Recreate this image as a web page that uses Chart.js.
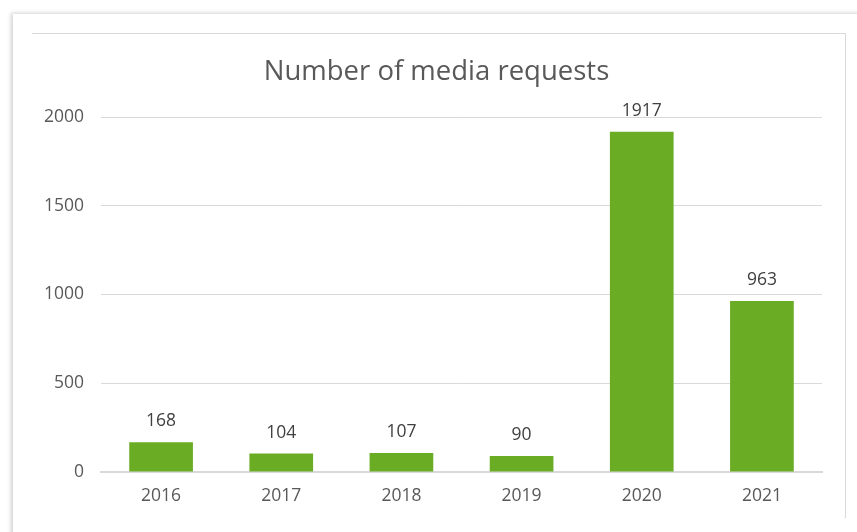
<!DOCTYPE html>
<html>
<head>
<meta charset="utf-8">
<script src="https://cdn.jsdelivr.net/npm/chart.js@4"></script>
<style>
  html, body { margin: 0; padding: 0; background: #ffffff; }
  body { width: 857px; height: 532px; position: relative; overflow: hidden; }
  #card {
    position: absolute; left: 13px; top: 14px; width: 860px; height: 540px;
    background: #ffffff; box-shadow: -2px -1px 4px rgba(0,0,0,0.18);
  }
  #frame {
    position: absolute; left: 32px; top: 33px; width: 813px; height: 484px;
    border-top: 1px solid #d9d9d9; border-right: 1px solid #d9d9d9;
  }
  #wrap { position: absolute; left: 0; top: 0; width: 857px; height: 532px; }
</style>
</head>
<body>
<div id="card"></div>
<div id="frame"></div>
<div id="wrap"><canvas id="mediaChart" width="857" height="532"></canvas></div>
<script>
const years = ['2016', '2017', '2018', '2019', '2020', '2021'];
const requests = [168, 104, 107, 90, 1917, 963];
const yTicks = [0, 500, 1000, 1500, 2000];
const chartTitle = 'Number of media requests';

const labelFont = { family: 'Open Sans', size: 17.5 };

// numbers above each bar
const barValueLabels = {
    id: 'barValueLabels',
    afterDatasetsDraw(chart) {
        const ctx = chart.ctx;
        const meta = chart.getDatasetMeta(0);
        ctx.save();
        ctx.font = '17.5px "Open Sans"';
        ctx.fillStyle = '#404040';
        ctx.textAlign = 'center';
        ctx.textBaseline = 'middle';
        meta.data.forEach(function(bar, i) {
            ctx.fillText(String(chart.data.datasets[0].data[i]), bar.x, bar.y - 21);
        });
        ctx.restore();
    }
};

// title centred over the framed area, not the canvas
const frameTitle = {
    id: 'frameTitle',
    afterDraw(chart) {
        const ctx = chart.ctx;
        ctx.save();
        ctx.font = '27.5px "Open Sans"';
        ctx.fillStyle = '#595959';
        ctx.textAlign = 'center';
        ctx.textBaseline = 'middle';
        ctx.fillText(chartTitle, 436.5, 72);
        ctx.restore();
    }
};

const ctx = document.getElementById('mediaChart').getContext('2d');
const mediaChart = new Chart(ctx, {
    type: 'bar',
    data: {
        labels: years,
        datasets: [{
            data: requests,
            backgroundColor: '#6aac24',
            barPercentage: 0.53,
            categoryPercentage: 1
        }]
    },
    options: {
        responsive: false,
        animation: false,
        layout: { padding: { left: 0, right: 35, top: 117, bottom: 0 } },
        scales: {
            y: {
                min: 0,
                max: 2000,
                afterFit: function(scale) { scale.width = 101; },
                afterBuildTicks: function(scale) {
                    scale.ticks = yTicks.map(function(v) { return { value: v }; });
                },
                border: { display: false },
                grid: { color: '#d9d9d9', lineWidth: 1, drawTicks: false },
                ticks: {
                    padding: 17,
                    color: '#595959',
                    font: labelFont,
                    callback: function(v) { return String(v); }
                }
            },
            x: {
                afterFit: function(scale) { scale.height = 60; },
                border: { color: '#d9d9d9', width: 2 },
                grid: { display: false, drawTicks: false },
                ticks: { padding: 14, color: '#595959', font: labelFont }
            }
        },
        plugins: {
            legend: { display: false },
            tooltip: { enabled: false },
            title: { display: false }
        }
    },
    plugins: [barValueLabels, frameTitle]
});
</script>
</body>
</html>
